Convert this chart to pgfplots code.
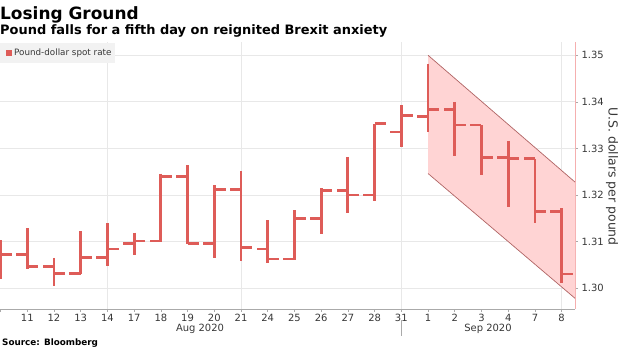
\documentclass[border=0pt]{standalone}
\usepackage{pgfplots}
\pgfplotsset{compat=1.18}
\usepackage{pgfplotstable}
\usepackage{fontspec}
\setmainfont{DejaVu Sans}
\definecolor{barred}{RGB}{222,92,88}
\definecolor{chanfill}{RGB}{255,212,212}
\definecolor{chanline}{RGB}{176,100,100}
\definecolor{gridgray}{RGB}{232,232,232}
\definecolor{axgray}{RGB}{170,170,170}
\definecolor{axpink}{RGB}{245,175,175}
\definecolor{labgray}{RGB}{55,55,55}
\definecolor{legbg}{RGB}{242,242,242}

\pgfplotstableread{
x open high low close
0 1.3075 1.3103 1.3019 1.3072
1 1.3072 1.3128 1.3040 1.3046
2 1.3046 1.3065 1.3004 1.3031
3 1.3031 1.3122 1.3031 1.3065
4 1.3065 1.3139 1.3048 1.3084
5 1.3096 1.3119 1.3072 1.3101
6 1.3101 1.3246 1.3099 1.3239
7 1.3239 1.3264 1.3094 1.3096
8 1.3096 1.3221 1.3064 1.3212
9 1.3212 1.3251 1.3059 1.3087
10 1.3084 1.3146 1.3053 1.3062
11 1.3062 1.3167 1.3060 1.3150
12 1.3150 1.3214 1.3117 1.3209
13 1.3210 1.3282 1.3162 1.3200
14 1.3200 1.3353 1.3187 1.3353
15 1.3335 1.3393 1.3302 1.3370
16 1.3369 1.3482 1.3335 1.3383
17 1.3383 1.3400 1.3283 1.3350
18 1.3350 1.3350 1.3243 1.3280
19 1.3280 1.3316 1.3174 1.3278
20 1.3278 1.3278 1.3140 1.3164
21 1.3165 1.3171 1.3010 1.3030
}\ohlc

\begin{document}
\begin{tikzpicture}[x=1bp,y=1bp]
\path[use as bounding box] (0,-39) rectangle (620,309);
\begin{axis}[name=ax, at={(0,0)}, anchor=south west,
  scale only axis, width=575bp, height=267bp,
  xmin=-0.02, xmax=21.5, ymin=1.2955, ymax=1.35285,
  axis y line*=right, axis x line*=bottom,
  x axis line style={draw=axgray, line width=0.8bp, -},
  y axis line style={draw=axpink, line width=0.8bp, -},
  xtick={0,...,21},
  xticklabels={{},11,12,13,14,17,18,19,20,21,24,25,26,27,28,31,1,2,3,4,7,8},
  ytick={1.30,1.31,1.32,1.33,1.34,1.35},
  /pgf/number format/assume math mode=true,
  yticklabel style={/pgf/number format/fixed, /pgf/number format/fixed zerofill, /pgf/number format/precision=2},
  ymajorgrids,
  grid style={draw=gridgray, line width=0.7bp},
  extra x ticks={4,9,15,21}, extra x tick labels={},
  extra x tick style={grid=major, major tick length=0pt},
  tick align=outside, major tick length=3bp,
  tick style={draw=axgray, line width=0.6bp},
  ticklabel style={font=\fontsize{10}{12}\selectfont, text=labgray},
  xticklabel style={yshift=1.5bp},
]
% channel
\addplot [fill=chanfill, draw=none, forget plot] coordinates {(16,1.3500) (21.5,1.32276) (21.5,1.2978) (16,1.3246)} -- cycle;
\addplot [draw=chanline, line width=0.7bp, forget plot] coordinates {(16,1.3500) (21.5,1.32276)};
\addplot [draw=chanline, line width=0.7bp, forget plot] coordinates {(16,1.3246) (21.5,1.2978)};
% high-low
\addplot [draw=none, mark=none, forget plot,
  error bars/.cd, y dir=minus, y explicit, error mark=none,
  error bar style={draw=barred, line width=2.8bp}]
  table [x=x, y=high, y error minus expr=\thisrow{high}-\thisrow{low}] {\ohlc};
% open ticks
\addplot [draw=none, mark=none, forget plot,
  error bars/.cd, x dir=minus, x fixed=0.42, error mark=none,
  error bar style={draw=barred, line width=2.6bp}]
  table [x=x, y=open] {\ohlc};
% close ticks
\addplot [draw=none, mark=none, forget plot,
  error bars/.cd, x dir=plus, x fixed=0.42, error mark=none,
  error bar style={draw=barred, line width=2.6bp}]
  table [x=x, y=close] {\ohlc};
\end{axis}
% titles
\node[anchor=base west, inner sep=0, font=\bfseries\fontsize{17}{20}\selectfont] at (0,289.5) {Losing Ground};
\node[anchor=base west, inner sep=0, font=\bfseries\fontsize{13}{15}\selectfont] at (0,274.5) {Pound falls for a fifth day on reignited Brexit anxiety};
% legend
\fill[legbg] (0,245.7) rectangle (115,266.3);
\fill[barred] (6,253) rectangle (12,259);
\node[anchor=west, inner sep=0, font=\fontsize{8.8}{10}\selectfont, text=labgray] at (14,256) {Pound-dollar spot rate};
% month labels
\node[anchor=base, inner sep=0, font=\fontsize{10}{12}\selectfont, text=labgray] at (200,-22.7) {Aug 2020};
\node[anchor=base, inner sep=0, font=\fontsize{10}{12}\selectfont, text=labgray] at (488,-22.7) {Sep 2020};
\draw[axgray, line width=0.6bp] (401.7,-11) -- (401.7,-27);
% y label
\node[rotate=-90, font=\fontsize{12.5}{14}\selectfont, text=labgray] at (612,132.5) {U.S. dollars per pound};
% source
\node[anchor=base west, inner sep=0, font=\bfseries\fontsize{8.85}{11}\selectfont] at (2,-36) {Source: Bloomberg};
\end{tikzpicture}
\end{document}
